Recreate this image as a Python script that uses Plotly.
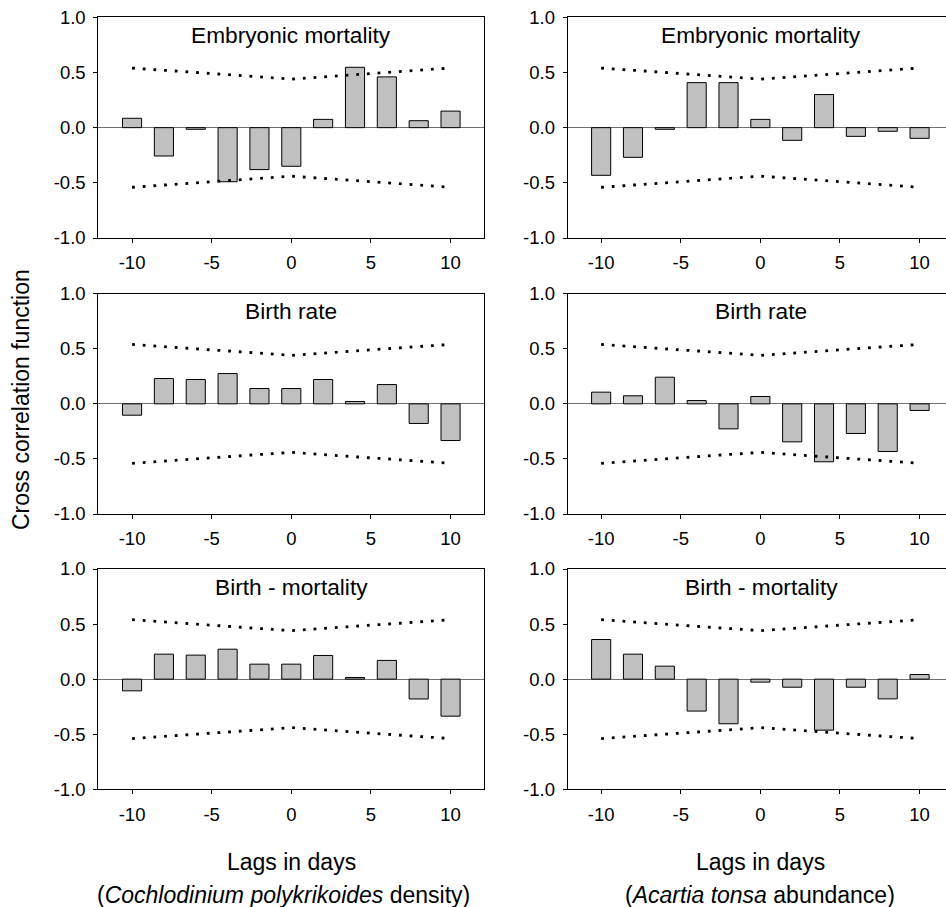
import plotly.graph_objects as go

lags = [-10, -8, -6, -4, -2, 0, 2, 4, 6, 8, 10]

# Cochlodinium polykrikoides density (left column)
coch_embryonic = [0.085, -0.257, -0.015, -0.49, -0.38, -0.35, 0.075, 0.547, 0.46, 0.063, 0.15]
coch_birth = [-0.103, 0.23, 0.221, 0.275, 0.139, 0.139, 0.221, 0.021, 0.175, -0.178, -0.333]
coch_birth_mort = [-0.106, 0.227, 0.218, 0.272, 0.136, 0.136, 0.215, 0.015, 0.17, -0.18, -0.336]

# Acartia tonsa abundance (right column)
acar_embryonic = [-0.432, -0.269, -0.015, 0.408, 0.408, 0.075, -0.115, 0.30, -0.079, -0.033, -0.097]
acar_birth = [0.106, 0.073, 0.242, 0.03, -0.227, 0.067, -0.345, -0.526, -0.269, -0.433, -0.06]
acar_birth_mort = [0.36, 0.227, 0.118, -0.29, -0.405, -0.027, -0.073, -0.463, -0.073, -0.179, 0.042]

conf_lags = [-10, -5, 0, 5, 10]
conf_upper = [0.54, 0.49, 0.44, 0.49, 0.54]
conf_lower = [-0.54, -0.49, -0.44, -0.49, -0.54]

panel_titles = ["Embryonic mortality", "Birth rate", "Birth - mortality"]
y_ticks = [-1.0, -0.5, 0.0, 0.5, 1.0]
y_tick_text = ["-1.0", "-0.5", "0.0", "0.5", "1.0"]
x_ticks = [-10, -5, 0, 5, 10]
x_tick_text = ["-10", "-5", "0", "5", "10"]

W, H = 946, 907
# pixel layout
col_px = [(98.3, 484.3), (567.7, 946.0)]
row_px = [(17.3, 238.0), (293.7, 514.0), (569.0, 789.3)]
x_ranges = [[-12.12, 12.12], [-12.1, 11.66]]

data = [[coch_embryonic, acar_embryonic],
        [coch_birth, acar_birth],
        [coch_birth_mort, acar_birth_mort]]

fig = go.Figure()
FONT = "Liberation Sans, Arial, sans-serif"

idx = 0
annotations = []
for r in range(3):
    for c in range(2):
        idx += 1
        xa = "x" if idx == 1 else f"x{idx}"
        ya = "y" if idx == 1 else f"y{idx}"
        fig.add_trace(go.Bar(
            x=lags, y=data[r][c], width=1.2,
            marker=dict(color="#c0c0c0", line=dict(color="black", width=1)),
            xaxis=xa, yaxis=ya, showlegend=False, hoverinfo="skip"))
        for conf in (conf_upper, conf_lower):
            fig.add_trace(go.Scatter(
                x=conf_lags, y=conf, mode="lines",
                line=dict(color="black", width=2.8, dash="2.8px,7.9px"),
                xaxis=xa, yaxis=ya, showlegend=False, hoverinfo="skip"))
        x0, x1 = col_px[c]
        y0, y1 = row_px[r]
        xd = [x0 / W, x1 / W]
        yd = [1 - y1 / H, 1 - y0 / H]
        xkey = "xaxis" if idx == 1 else f"xaxis{idx}"
        ykey = "yaxis" if idx == 1 else f"yaxis{idx}"
        fig.update_layout(**{
            xkey: dict(domain=xd, anchor=ya, range=x_ranges[c], automargin=False,
                       tickmode="array", tickvals=x_ticks, ticktext=x_tick_text,
                       ticks="outside", ticklen=4, tickwidth=1, tickcolor="black",
                       ticklabelstandoff=4,
                       showline=True, linecolor="black", linewidth=1,
                       mirror=True, showgrid=False, zeroline=False,
                       tickfont=dict(family=FONT, size=18.5, color="black")),
            ykey: dict(domain=yd, anchor=xa, range=[-1.0, 1.0], automargin=False,
                       tickmode="array", tickvals=y_ticks, ticktext=y_tick_text,
                       ticks="outside", ticklen=4, tickwidth=1, tickcolor="black",
                       ticklabelstandoff=4,
                       showline=True, linecolor="black", linewidth=1,
                       mirror=(c == 0), showgrid=False,
                       zeroline=True, zerolinecolor="#707070", zerolinewidth=1,
                       tickfont=dict(family=FONT, size=18.5, color="black")),
        })
        annotations.append(dict(
            text=panel_titles[r], xref="paper", yref="paper",
            x=((x0 + x1) / 2 if c == 0 else 761.0) / W, y=1 - (y0 + 17.5) / H,
            xanchor="center", yanchor="middle", showarrow=False,
            font=dict(family=FONT, size=22.7, color="black")))

annotations += [
    dict(text="Lags in days", xref="paper", yref="paper", x=291 / W, y=1 - 862 / H,
         xanchor="center", yanchor="middle", showarrow=False,
         font=dict(family=FONT, size=23, color="black")),
    dict(text="Lags in days", xref="paper", yref="paper", x=760 / W, y=1 - 862 / H,
         xanchor="center", yanchor="middle", showarrow=False,
         font=dict(family=FONT, size=23, color="black")),
    dict(text="(<i>Cochlodinium polykrikoides</i> density)", xref="paper", yref="paper",
         x=283 / W, y=1 - 895 / H, xanchor="center", yanchor="middle", showarrow=False,
         font=dict(family=FONT, size=23, color="black")),
    dict(text="(<i>Acartia tonsa</i> abundance)", xref="paper", yref="paper",
         x=760 / W, y=1 - 895 / H, xanchor="center", yanchor="middle", showarrow=False,
         font=dict(family=FONT, size=23, color="black")),
    dict(text="Cross correlation function", xref="paper", yref="paper",
         x=21 / W, y=1 - 400 / H, xanchor="center", yanchor="middle", showarrow=False,
         textangle=-90, font=dict(family=FONT, size=23, color="black")),
]

fig.update_layout(
    width=W, height=H,
    margin=dict(l=0, r=0, t=0, b=0, pad=0),
    paper_bgcolor="white", plot_bgcolor="white",
    bargap=0, annotations=annotations,
)

fig.write_html("out.html", config={"displayModeBar": False, "staticPlot": True},
               post_script="document.body.style.margin='0px';document.body.style.overflow='hidden';")
